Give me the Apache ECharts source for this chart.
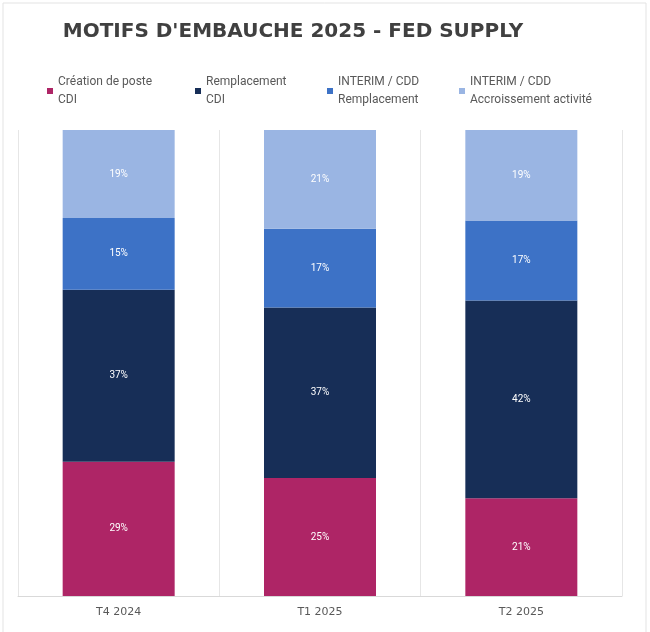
<!DOCTYPE html>
<html>

<head>
	<meta charset="utf-8">
	<title>Motifs d'embauche 2025</title>
	<script src="https://cdn.jsdelivr.net/npm/echarts@6/dist/echarts.min.js"></script>
	<style>
		html, body { margin: 0; padding: 0; background: #fff; }
	</style>
</head>

<body>
	<div id="main" style="width: 650px;height:632px;"></div>

	<script type="text/javascript">
		// données (en %)
		var trimestres = ['T4 2024', 'T1 2025', 'T2 2025'];
		var creationCDI = [28.8, 25.3, 21.0];
		var remplacementCDI = [36.9, 36.6, 42.4];
		var interimRemplacement = [15.4, 16.9, 17.2];
		var interimAccroissement = [18.9, 21.2, 19.4];

		var noms = ['Création de poste\nCDI', 'Remplacement\nCDI', 'INTERIM / CDD\nRemplacement', 'INTERIM / CDD\nAccroissement activité'];
		var colors = ['#ae2566', '#172e57', '#3d72c6', '#9ab5e3'];
		var legendLeft = [42, 190, 322, 454];

		var myChart = echarts.init(document.getElementById('main'));

		function serie(nom, data) {
			return {
				name: nom,
				type: 'bar',
				stack: 'total',
				barWidth: 112,
				data: data,
				label: {
					show: true,
					position: 'inside',
					color: '#fff',
					fontSize: 10,
					fontFamily: 'Roboto',
					formatter: function (p) {
						return Math.round(p.value) + '%';
					}
				}
			};
		}

		var legends = noms.map(function (n, i) {
			return {
				data: [n],
				left: legendLeft[i],
				top: 68,
				icon: 'rect',
				itemWidth: 6,
				itemHeight: 6,
				itemGap: 4,
				textStyle: {
					color: '#595959',
					fontSize: 12,
					lineHeight: 18,
					fontFamily: 'Roboto'
				}
			};
		});

		var option = {
			color: colors,
			animation: false,
			title: {
				text: "MOTIFS D'EMBAUCHE 2025 - FED SUPPLY",
				left: 288,
				textAlign: 'center',
				top: 17,
				textStyle: {
					color: '#404040',
					fontSize: 20,
					fontWeight: 'bold',
					fontFamily: 'DejaVu Sans'
				}
			},
			legend: legends,
			graphic: [{
				type: 'rect',
				shape: { x: 3, y: 3, width: 643, height: 640 },
				style: { fill: 'none', stroke: '#e3e3e3', lineWidth: 1 }
			}],
			grid: {
				left: 18,
				right: 28,
				top: 130,
				bottom: 36
			},
			xAxis: {
				type: 'category',
				data: trimestres,
				axisTick: { show: false },
				axisLine: { lineStyle: { color: '#d9d9d9' } },
				splitLine: { show: true, lineStyle: { color: '#e6e6e6' } },
				axisLabel: {
					color: '#595959',
					fontSize: 11,
					fontFamily: 'DejaVu Sans',
					margin: 11
				}
			},
			yAxis: {
				type: 'value',
				min: 0,
				max: 100,
				show: false
			},
			series: [
				serie(noms[0], creationCDI),
				serie(noms[1], remplacementCDI),
				serie(noms[2], interimRemplacement),
				serie(noms[3], interimAccroissement)
			]
		};

		myChart.setOption(option);
	</script>
</body>

</html>
